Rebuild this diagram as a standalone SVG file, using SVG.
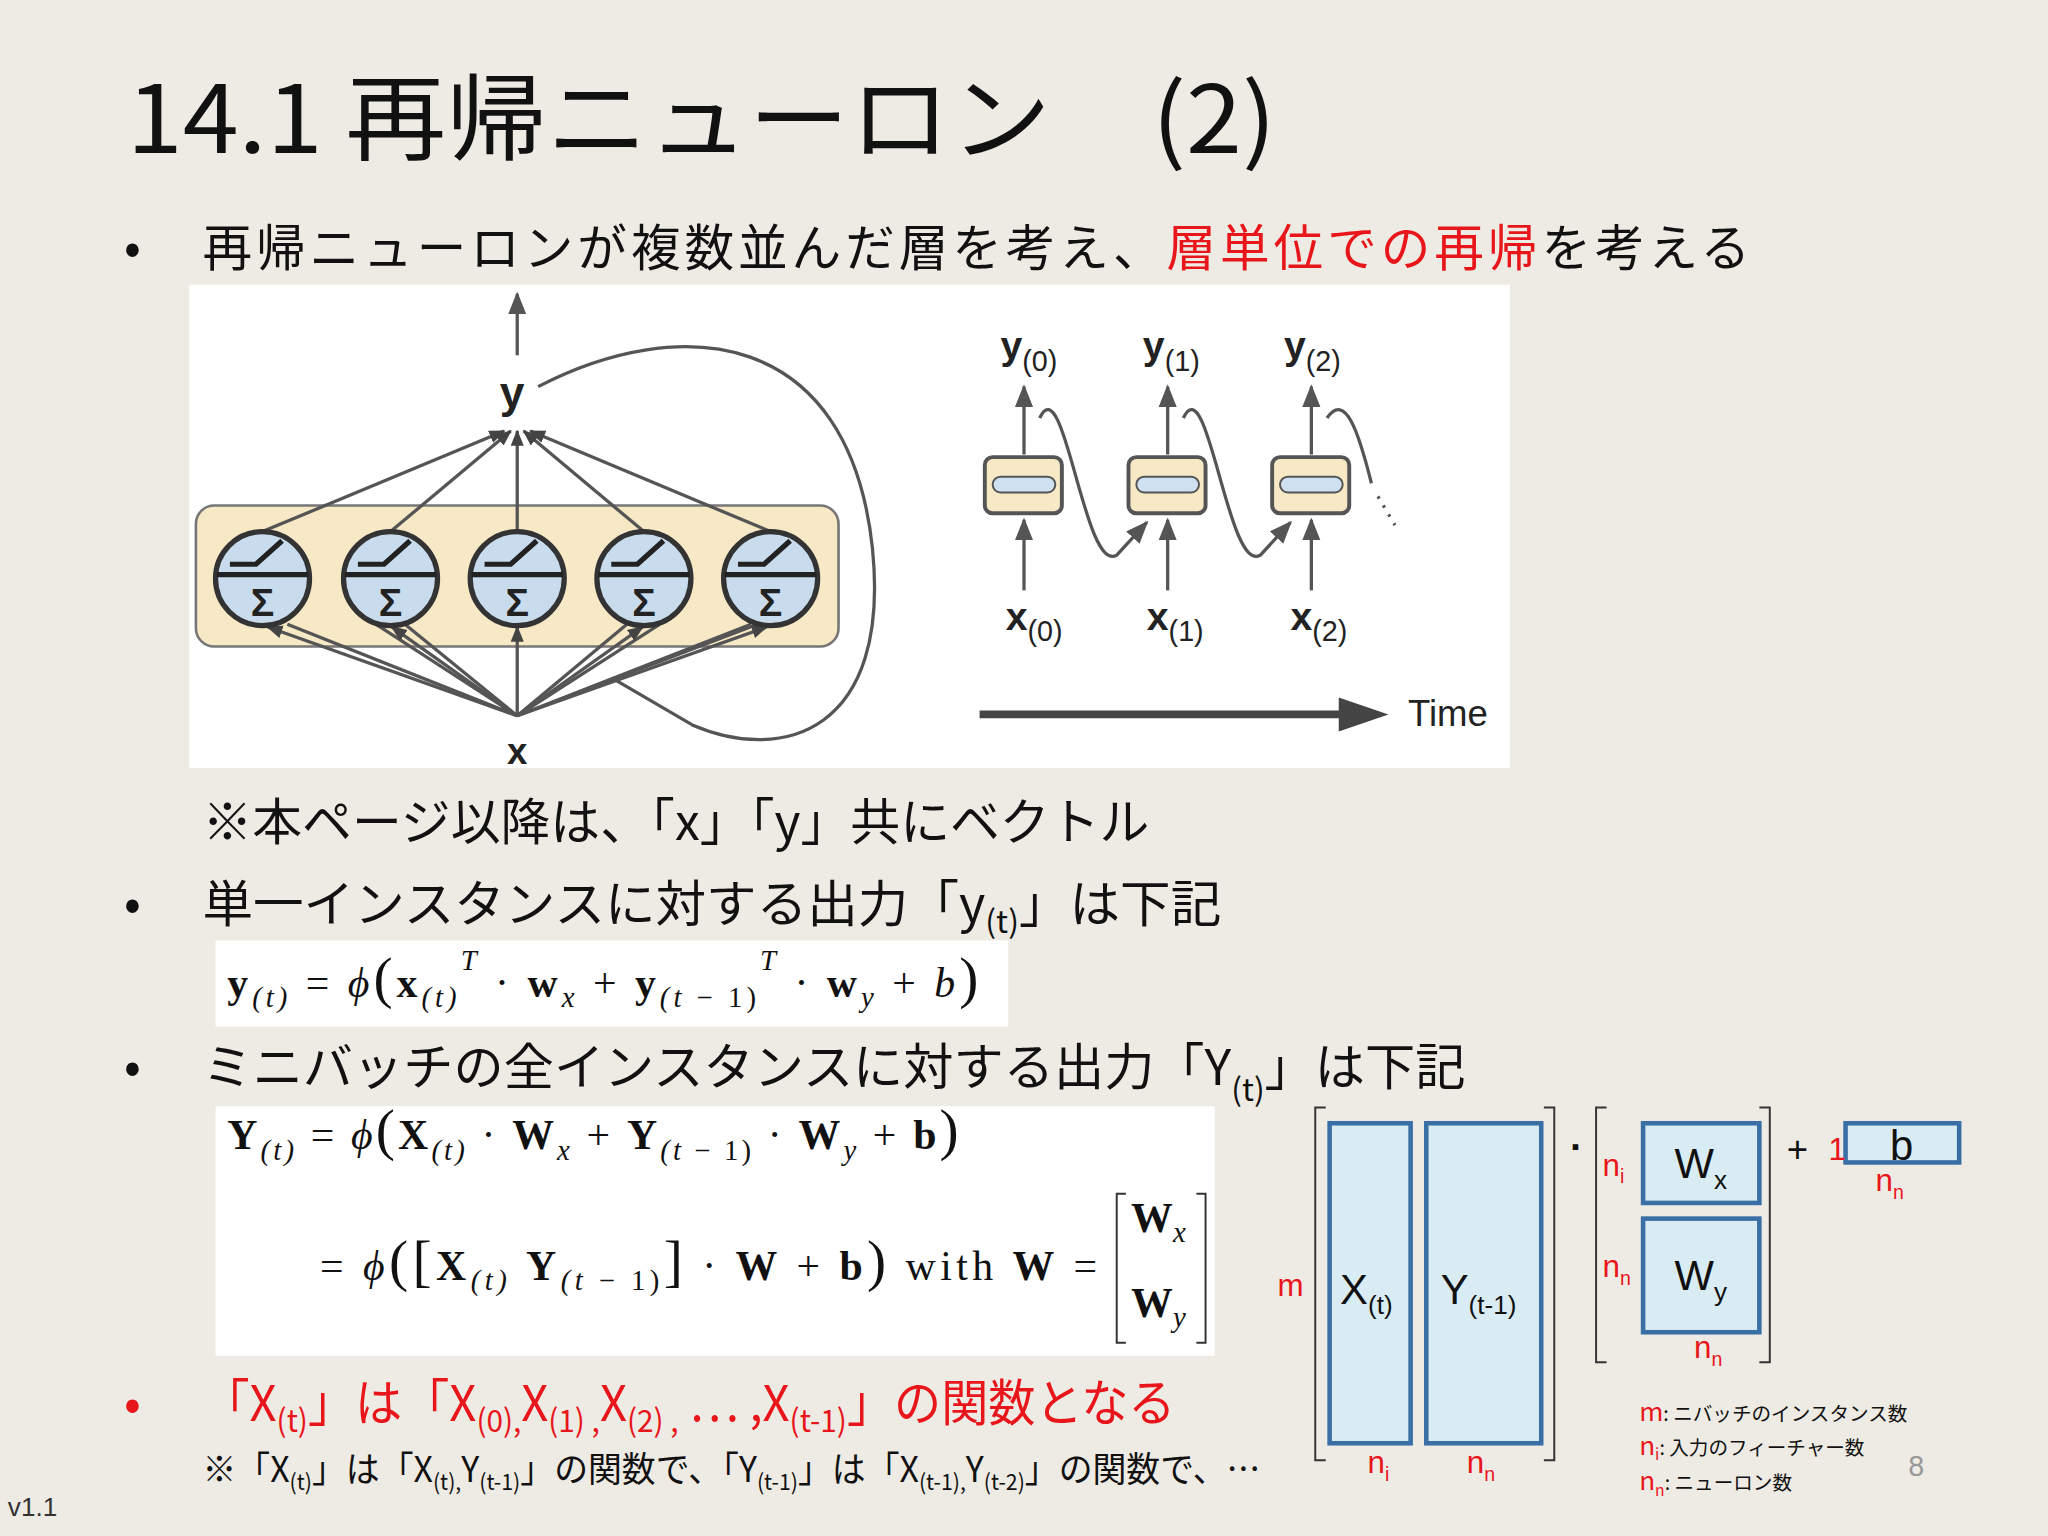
<svg xmlns="http://www.w3.org/2000/svg" width="2048" height="1536" viewBox="0 0 2048 1536">
<defs>
<style>
.j{font-family:"Noto Sans CJK JP","Noto Sans",sans-serif}
.s{font-family:"Liberation Serif",serif}
.a{font-family:"Liberation Sans",Arial,sans-serif}
.r{fill:#e8151b}
.ln{stroke:#555;stroke-width:2.5;fill:none}
.neu{fill:#c9dcee;stroke:#333;stroke-width:4}
.cell{fill:#f7e8c6;stroke:#555;stroke-width:3}
.mat{fill:#d9ecf4;stroke:#3a6fa6;stroke-width:3.5}
.br{fill:none;stroke:#333;stroke-width:1.5}
</style>
<marker id="ar" viewBox="0 0 10 10" refX="9" refY="5" markerWidth="7" markerHeight="7" orient="auto-start-reverse"><path d="M0,1 L10,5 L0,9 z" fill="#555"/></marker>
<marker id="at" viewBox="0 0 10 10" refX="9" refY="5" markerWidth="5" markerHeight="5" orient="auto"><path d="M0,1 L10,5 L0,9 z" fill="#444"/></marker>
</defs>
<rect width="2048" height="1536" fill="#eeebe4"/>
<g transform="scale(1.30612)">
<text class="j" x="97" y="117" font-size="72" fill="#111" textLength="880" lengthAdjust="spacingAndGlyphs">14.1 再帰ニューロン　(2)</text>
<g class="j" font-size="38" fill="#111">
<text x="95" y="203">•</text>
<text x="155" y="204" textLength="1185" lengthAdjust="spacing">再帰ニューロンが複数並んだ層を考え、<tspan class="r">層単位での再帰</tspan>を考える</text>
<text x="155" y="643" textLength="725" lengthAdjust="spacingAndGlyphs">※本ページ以降は、「x」「y」共にベクトル</text>
<text x="95" y="705">•</text>
<text x="155" y="706" textLength="780" lengthAdjust="spacingAndGlyphs">単一インスタンスに対する出力「y<tspan font-size="24" dy="8">(t)</tspan><tspan dy="-8">」は下記</tspan></text>
<text x="95" y="830">•</text>
<text x="155" y="831" textLength="967" lengthAdjust="spacingAndGlyphs">ミニバッチの全インスタンスに対する出力「Y<tspan font-size="24" dy="12">(t)</tspan><tspan dy="-12">」は下記</tspan></text>
<text x="95" y="1088" class="r">•</text>
<text x="155" y="1088" class="r" textLength="745" lengthAdjust="spacingAndGlyphs">「X<tspan font-size="24" dy="8">(t)</tspan><tspan dy="-8">」は「X</tspan><tspan font-size="24" dy="8">(0),</tspan><tspan dy="-8">X</tspan><tspan font-size="24" dy="8">(1) ,</tspan><tspan dy="-8">X</tspan><tspan font-size="24" dy="8">(2) ,</tspan><tspan dy="-8"> … ,X</tspan><tspan font-size="24" dy="8">(t-1)</tspan><tspan dy="-8">」の関数となる</tspan></text>
<text x="155" y="1135" font-size="27" textLength="810" lengthAdjust="spacingAndGlyphs">※「X<tspan font-size="17" dy="6">(t)</tspan><tspan dy="-6">」は「X</tspan><tspan font-size="17" dy="6">(t),</tspan><tspan dy="-6">Y</tspan><tspan font-size="17" dy="6">(t-1)</tspan><tspan dy="-6">」の関数で、「Y</tspan><tspan font-size="17" dy="6">(t-1)</tspan><tspan dy="-6">」は「X</tspan><tspan font-size="17" dy="6">(t-1),</tspan><tspan dy="-6">Y</tspan><tspan font-size="17" dy="6">(t-2)</tspan><tspan dy="-6">」の関数で、…</tspan></text>
</g>
<text class="a" x="6" y="1161" font-size="20" fill="#333">v1.1</text>
<text class="a" x="1461" y="1130" font-size="22" fill="#999">8</text>

<rect x="145" y="218" width="1011" height="370" fill="#fff"/>
<g id="layer">
<rect x="150" y="387" width="492" height="108" rx="14" fill="#f7e8c6" stroke="#777" stroke-width="2"/>
<g class="ln">
<path d="M396 548 L220 478 M396 548 L310 478 M396 548 L480 478 M396 548 L580 478 M396 548 L575 478 M396 548 L288 478 M396 548 L505 478"/>
<path d="M396 548 L205 480" marker-end="url(#at)"/>
<path d="M396 548 L300 480" marker-end="url(#at)"/>
<path d="M396 548 L396 480" marker-end="url(#at)"/>
<path d="M396 548 L492 480" marker-end="url(#at)"/>
<path d="M396 548 L587 480" marker-end="url(#at)"/>
<path d="M201 407 L386 330" marker-end="url(#at)"/>
<path d="M299 407 L391 330" marker-end="url(#at)"/>
<path d="M396 407 L396 330" marker-end="url(#at)"/>
<path d="M493 407 L401 330" marker-end="url(#at)"/>
<path d="M590 407 L406 330" marker-end="url(#at)"/>
<path d="M396 272 L396 225" marker-end="url(#ar)"/>
<path d="M412 296 C 520 240 650 250 668 420 C 682 560 600 585 530 555 L 470 520"/>
</g>
<g id="n1"><circle class="neu" cx="201" cy="443" r="36"/></g>
<g id="n2"><circle class="neu" cx="299" cy="443" r="36"/></g>
<g id="n3"><circle class="neu" cx="396" cy="443" r="36"/></g>
<g id="n4"><circle class="neu" cx="493" cy="443" r="36"/></g>
<g id="n5"><circle class="neu" cx="590" cy="443" r="36"/></g>
<g stroke="#222" stroke-width="4" fill="none">
<path d="M166 440 H236 M176 432 H196 L216 414 M264 440 H334 M274 432 H294 L314 414 M361 440 H431 M371 432 H391 L411 414 M458 440 H528 M468 432 H488 L508 414 M555 440 H625 M565 432 H585 L605 414"/>
</g>
<g class="a" font-size="30" font-weight="bold" fill="#222" text-anchor="middle">
<text x="201" y="472">Σ</text><text x="299" y="472">Σ</text><text x="396" y="472">Σ</text><text x="493" y="472">Σ</text><text x="590" y="472">Σ</text>
<text x="392" y="312" font-size="34">y</text>
<text x="396" y="585" font-size="28">x</text>
</g>
</g>
<g id="unrolled">
<g class="ln">
<path d="M784 452 L784 398" marker-end="url(#ar)"/>
<path d="M784 348 L784 296" marker-end="url(#ar)"/>
<path d="M894 452 L894 398" marker-end="url(#ar)"/>
<path d="M894 348 L894 296" marker-end="url(#ar)"/>
<path d="M1004 452 L1004 398" marker-end="url(#ar)"/>
<path d="M1004 348 L1004 296" marker-end="url(#ar)"/>
<path d="M796 320 C 815 280 830 440 855 425 L 878 400" marker-end="url(#ar)"/>
<path d="M906 320 C 925 280 940 440 965 425 L 988 400" marker-end="url(#ar)"/>
<path d="M1016 320 C 1030 300 1040 330 1050 370"/>
<path d="M1055 380 L1068 402" stroke-dasharray="2 6"/>
</g>
<rect class="cell" x="754" y="350" width="59" height="43" rx="6"/>
<rect class="cell" x="864" y="350" width="59" height="43" rx="6"/>
<rect class="cell" x="974" y="350" width="59" height="43" rx="6"/>
<g fill="#cfe0f0" stroke="#555" stroke-width="1.5">
<rect x="760" y="365" width="48" height="12" rx="6"/><rect x="870" y="365" width="48" height="12" rx="6"/><rect x="980" y="365" width="48" height="12" rx="6"/>
</g>
<path d="M750 547 L1030 547" stroke="#444" stroke-width="6"/>
<path d="M1025 534 L1063 547 L1025 560 z" fill="#444"/>
<g class="a" fill="#222">
<text x="1078" y="556" font-size="28">Time</text>
<text x="766" y="275" font-size="30" font-weight="bold">y<tspan font-size="22" font-weight="normal" dy="9">(0)</tspan></text>
<text x="875" y="275" font-size="30" font-weight="bold">y<tspan font-size="22" font-weight="normal" dy="9">(1)</tspan></text>
<text x="983" y="275" font-size="30" font-weight="bold">y<tspan font-size="22" font-weight="normal" dy="9">(2)</tspan></text>
<text x="770" y="482" font-size="30" font-weight="bold">x<tspan font-size="22" font-weight="normal" dy="9">(0)</tspan></text>
<text x="878" y="482" font-size="30" font-weight="bold">x<tspan font-size="22" font-weight="normal" dy="9">(1)</tspan></text>
<text x="988" y="482" font-size="30" font-weight="bold">x<tspan font-size="22" font-weight="normal" dy="9">(2)</tspan></text>
</g>
</g>

<g id="f1">
<rect x="165" y="720" width="607" height="66" fill="#fff"/>
<text class="s" x="174" y="763" font-size="32" fill="#111" textLength="575" lengthAdjust="spacing"><tspan font-weight="bold">y</tspan><tspan font-size="22" font-style="italic" dy="8">(t)</tspan><tspan dy="-8"> = </tspan><tspan font-style="italic">ϕ</tspan><tspan font-size="44">(</tspan><tspan font-weight="bold">x</tspan><tspan font-size="22" font-style="italic" dy="8">(t)</tspan><tspan font-size="22" font-style="italic" dy="-28">T</tspan><tspan dy="20"> · </tspan><tspan font-weight="bold">w</tspan><tspan font-size="22" font-style="italic" dy="8">x</tspan><tspan dy="-8"> + </tspan><tspan font-weight="bold">y</tspan><tspan font-size="22" dy="8"><tspan font-style="italic">(t</tspan> − 1)</tspan><tspan font-size="22" font-style="italic" dy="-28">T</tspan><tspan dy="20"> · </tspan><tspan font-weight="bold">w</tspan><tspan font-size="22" font-style="italic" dy="8">y</tspan><tspan dy="-8"> + </tspan><tspan font-style="italic">b</tspan><tspan font-size="44">)</tspan></text>
</g>
<g id="f2">
<rect x="165" y="847" width="765" height="191" fill="#fff"/>
<g class="s" font-size="32" fill="#111">
<text x="174" y="880" textLength="560" lengthAdjust="spacing"><tspan font-weight="bold">Y</tspan><tspan font-size="22" font-style="italic" dy="8">(t)</tspan><tspan dy="-8"> = </tspan><tspan font-style="italic">ϕ</tspan><tspan font-size="44">(</tspan><tspan font-weight="bold">X</tspan><tspan font-size="22" font-style="italic" dy="8">(t)</tspan><tspan dy="-8"> · </tspan><tspan font-weight="bold">W</tspan><tspan font-size="22" font-style="italic" dy="8">x</tspan><tspan dy="-8"> + </tspan><tspan font-weight="bold">Y</tspan><tspan font-size="22" dy="8"><tspan font-style="italic">(t</tspan> − 1)</tspan><tspan dy="-8"> · </tspan><tspan font-weight="bold">W</tspan><tspan font-size="22" font-style="italic" dy="8">y</tspan><tspan dy="-8"> + </tspan><tspan font-weight="bold">b</tspan><tspan font-size="44">)</tspan></text>
<text x="245" y="980" textLength="595" lengthAdjust="spacing"> = <tspan font-style="italic">ϕ</tspan><tspan font-size="44">([</tspan><tspan font-weight="bold">X</tspan><tspan font-size="22" font-style="italic" dy="8">(t)</tspan><tspan dy="-8">    </tspan><tspan font-weight="bold">Y</tspan><tspan font-size="22" dy="8"><tspan font-style="italic">(t</tspan> − 1)</tspan><tspan font-size="44" dy="-8">]</tspan><tspan> · </tspan><tspan font-weight="bold">W</tspan><tspan> + </tspan><tspan font-weight="bold">b</tspan><tspan font-size="44">)</tspan><tspan>  with  </tspan><tspan font-weight="bold">W</tspan><tspan> =</tspan></text>
<text x="866" y="943" font-weight="bold">W<tspan font-size="22" font-weight="normal" font-style="italic" dy="8">x</tspan></text>
<text x="866" y="1008" font-weight="bold">W<tspan font-size="22" font-weight="normal" font-style="italic" dy="8">y</tspan></text>
</g>
<path d="M862 914 H855 V1028 H862 M916 914 H923 V1028 H916" class="br" stroke-width="2"/>
</g>

<g id="matrix">
<path class="br" d="M1015 848 H1007 V1118 H1015 M1182 848 H1190 V1118 H1182 M1230 848 H1222 V1043 H1230 M1347 848 H1355 V1043 H1347"/>
<rect class="mat" x="1018" y="860" width="62" height="245"/>
<rect class="mat" x="1092" y="860" width="88" height="245"/>
<rect class="mat" x="1258" y="860" width="89" height="61"/>
<rect class="mat" x="1258" y="933" width="89" height="87"/>
<rect class="mat" x="1413" y="860" width="87" height="30"/>
<g class="a" fill="#111" font-size="32">
<text x="1026" y="998">X<tspan font-size="20" dy="8">(t)</tspan></text>
<text x="1103" y="998">Y<tspan font-size="20" dy="8">(t-1)</tspan></text>
<text x="1282" y="902">W<tspan font-size="20" dy="8">x</tspan></text>
<text x="1282" y="988">W<tspan font-size="20" dy="8">y</tspan></text>
<text x="1447" y="888">b</text>
<text x="1368" y="890" font-size="28">+</text>
<text x="1202" y="888" font-size="30" font-weight="bold">·</text>
</g>
<g class="a r" font-size="24">
<text x="978" y="992">m</text>
<text x="1400" y="888">1</text>
<text x="1227" y="900">n<tspan font-size="15" dy="6">i</tspan></text>
<text x="1227" y="978">n<tspan font-size="15" dy="6">n</tspan></text>
<text x="1297" y="1040">n<tspan font-size="15" dy="6">n</tspan></text>
<text x="1436" y="912">n<tspan font-size="15" dy="6">n</tspan></text>
<text x="1047" y="1128">n<tspan font-size="15" dy="6">i</tspan></text>
<text x="1123" y="1128">n<tspan font-size="15" dy="6">n</tspan></text>
</g>
<g class="j" font-size="15" fill="#111">
<text x="1255" y="1088"><tspan class="r" font-size="20">m</tspan>: ニバッチのインスタンス数</text>
<text x="1255" y="1114"><tspan class="r" font-size="20">n</tspan><tspan class="r" font-size="12" dy="4">i</tspan><tspan dy="-4">: 入力のフィーチャー数</tspan></text>
<text x="1255" y="1141"><tspan class="r" font-size="20">n</tspan><tspan class="r" font-size="12" dy="4">n</tspan><tspan dy="-4">: ニューロン数</tspan></text>
</g>
</g>
</g>
</svg>
